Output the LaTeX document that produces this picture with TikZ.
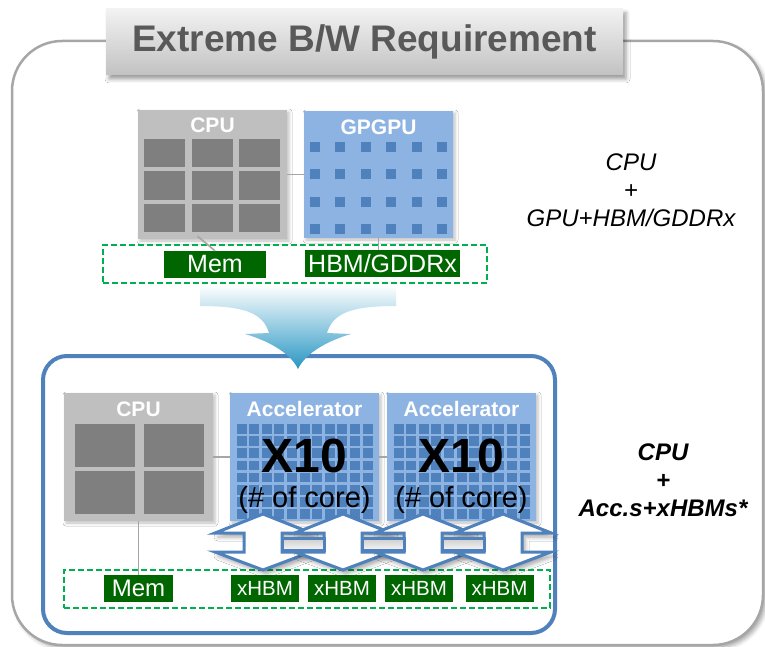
\documentclass[tikz,border=0pt]{standalone}
\usepackage{fontspec}
\setmainfont{Liberation Sans}
\usetikzlibrary{shadows,shadows.blur}

\definecolor{framegray}{HTML}{A6A6A6}
\definecolor{cpugray}{HTML}{BFBFBF}
\definecolor{cellgray}{HTML}{7F7F7F}
\definecolor{gpublue}{HTML}{8DB3E2}
\definecolor{coreblue}{HTML}{4F81BD}
\definecolor{memgreen}{HTML}{006600}
\definecolor{dashgreen}{HTML}{00B050}
\definecolor{titlegray}{HTML}{595959}
\definecolor{arrowcyan}{RGB}{40,150,195}

\tikzset{
  softshadow/.style={blur shadow={shadow xshift=2pt, shadow yshift=-2pt, shadow opacity=25, shadow blur radius=3pt}},
  cpubox/.style={fill=cpugray, inner sep=0pt, minimum width=149pt, minimum height=128pt, softshadow},
  gpubox/.style={fill=gpublue, inner sep=0pt, minimum width=149pt, minimum height=128pt, softshadow},
  boxlabel/.style={text=white, inner sep=0pt, font=\bfseries\fontsize{21}{23}\selectfont},
  membox/.style={fill=memgreen, text=white, inner sep=0pt, minimum height=27pt, font=\fontsize{25}{26}\selectfont},
  hbmbox/.style={membox, minimum width=68pt, font=\fontsize{20.5}{22}\selectfont},
  dashbox/.style={draw=dashgreen, dash pattern=on 6pt off 3pt, line width=1.4pt, inner sep=0pt},
  link/.style={draw=framegray, line width=1.6pt},
  updown/.style={draw=coreblue, fill=white, line width=3pt, line join=miter,
    blur shadow={shadow xshift=3pt, shadow yshift=-4pt, shadow opacity=35, shadow blur radius=4pt}},
  barlink/.style={draw=coreblue, line width=3pt, top color=white!80!black, bottom color=white!96!black},
  titlebox/.style={top color=white!95!black, bottom color=white!76!black, text=titlegray,
    minimum width=517pt, minimum height=66pt, inner sep=0pt,
    font=\bfseries\fontsize{37}{40}\selectfont,
    blur shadow={shadow xshift=3pt, shadow yshift=-4pt, shadow opacity=40, shadow blur radius=4pt}},
  bigtext/.style={font=\bfseries\fontsize{48}{50}\selectfont, inner sep=0pt},
  coretext/.style={font=\fontsize{29}{31}\selectfont, inner sep=0pt},
  desc/.style={align=center, inner sep=0pt}
}

\begin{document}
\begin{tikzpicture}[x=1pt,y=-1pt]
\useasboundingbox (0,0) rectangle (765,647);

% outer frame
\draw[framegray, line width=2.5pt, fill=white, rounded corners=50pt,
  blur shadow={shadow xshift=3pt, shadow yshift=-3pt, shadow opacity=35, shadow blur radius=4pt}]
  (12,41) rectangle (763,645);

% heading
\node[titlebox] (title) at (364.5,42) {Extreme B/W Requirement};

% ---------- CPU + GPU with HBM/GDDRx ----------
\node[cpubox, minimum height=129pt] (cpuA) at (212.5,174.5) {};
\node[boxlabel] (cpuAlbl) at (212.5,125.5) {CPU};
\foreach \i in {0,1,2} \foreach \j in {0,1,2}
  \fill[cellgray] ({144+47.5*\i},{139+32.5*\j}) rectangle ++(41,28);

\node[gpubox, minimum height=127pt] (gpu) at (378.5,174.5) {};
\node[boxlabel] (gpulbl) at (378.5,127.5) {GPGPU};
\foreach \i in {0,...,5} \foreach \j in {0,...,3}
  \fill[coreblue] ({310+25.4*\i},{142+27.3*\j}) rectangle ++(10,10);

\node[dashbox, minimum width=384pt, minimum height=38pt] (memrowA) at (295,264) {};
\node[membox, minimum width=102pt] (memA) at (215,264.5) {Mem};
\node[membox, minimum width=155pt] (hbmA) at (382.5,263.5) {HBM/GDDRx};

\draw[link] (cpuA.east) -- (gpu.west);
\draw[link] ([xshift=-15pt,yshift=3pt]cpuA.south) -- (memA.north);
\draw[link] ([yshift=2pt]gpu.south) -- (gpu.south |- hbmA.north);

% ---------- CPU + accelerators with xHBMs ----------
\node[draw=coreblue, line width=4pt, rounded corners=24pt, inner sep=0pt,
  minimum width=512pt, minimum height=277pt] (accframe) at (299,494.5) {};

% transition arrow
\shade[top color=white, bottom color=arrowcyan]
  (200,285) -- (396,285) -- (396,306)
  .. controls (354,306) and (333,312) .. (327,333)
  -- (351,334)
  .. controls (330,340) and (306,352) .. (298,369)
  .. controls (290,352) and (266,340) .. (245,334)
  -- (269,333)
  .. controls (263,312) and (242,306) .. (200,306) -- cycle;

\node[cpubox] (cpuB) at (138.5,457) {};
\node[boxlabel] (cpuBlbl) at (138.5,409) {CPU};
\foreach \i in {0,1} \foreach \j in {0,1}
  \fill[cellgray] ({75+69*\i},{424+47*\j}) rectangle ++(60,43);

\node[gpubox] (accA) at (304.5,457) {};
\node[gpubox] (accB) at (461.5,457) {};
\foreach \bx in {230,387} \foreach \i in {0,...,10} \foreach \j in {0,...,7}
  \fill[coreblue] ({\bx+6.5+12.6*\i},{424+12.2*\j}) rectangle ++(10,9.6);
\node[boxlabel] (accAlbl) at (304.5,409) {Accelerator};
\node[boxlabel] (accBlbl) at (461.5,409) {Accelerator};
\node[bigtext] (accAx) at (304.5,456) {X10};
\node[bigtext] (accBx) at (461.5,456) {X10};
\node[coretext] (accAc) at (304.5,500) {(\# of core)};
\node[coretext] (accBc) at (461.5,500) {(\# of core)};

\draw[link] (cpuB.east) -- (accA.west);
\draw[link] (accA.east) -- (accB.west);

% memory row
\node[dashbox, minimum width=486pt, minimum height=38pt] (memrowB) at (307,589) {};
\node[membox, minimum width=69pt, font=\fontsize{24}{25}\selectfont] (memB) at (138.5,588.5) {Mem};
\node[hbmbox] (xhbm1) at (265,588.5) {xHBM};
\node[hbmbox] (xhbm2) at (342,588.5) {xHBM};
\node[hbmbox] (xhbm3) at (419,588.5) {xHBM};
\node[hbmbox] (xhbm4) at (499.5,588.5) {xHBM};
\draw[link] (cpuB.south) -- (memB.north);

% bidirectional accelerator/memory arrows
\foreach \cx in {263,343,423,503}
  \draw[updown] (\cx,514) -- (\cx+48,533) -- (\cx+19,533) -- (\cx+19,552)
    -- (\cx+48,552) -- (\cx,570) -- (\cx-48,552) -- (\cx-19,552)
    -- (\cx-19,533) -- (\cx-48,533) -- cycle;
\foreach \a/\b in {263/343,343/423,423/503}
  \draw[barlink] (\a+19,538) rectangle (\b-19,550);

% side notes
\node[desc, font=\itshape\fontsize{24}{28}\selectfont] (noteA) at (631,190) {CPU\\+\\GPU+HBM/GDDRx};
\node[desc, font=\bfseries\itshape\fontsize{24}{28}\selectfont] (noteB) at (663,480) {CPU\\+\\Acc.s+xHBMs*};
\end{tikzpicture}
\end{document}
